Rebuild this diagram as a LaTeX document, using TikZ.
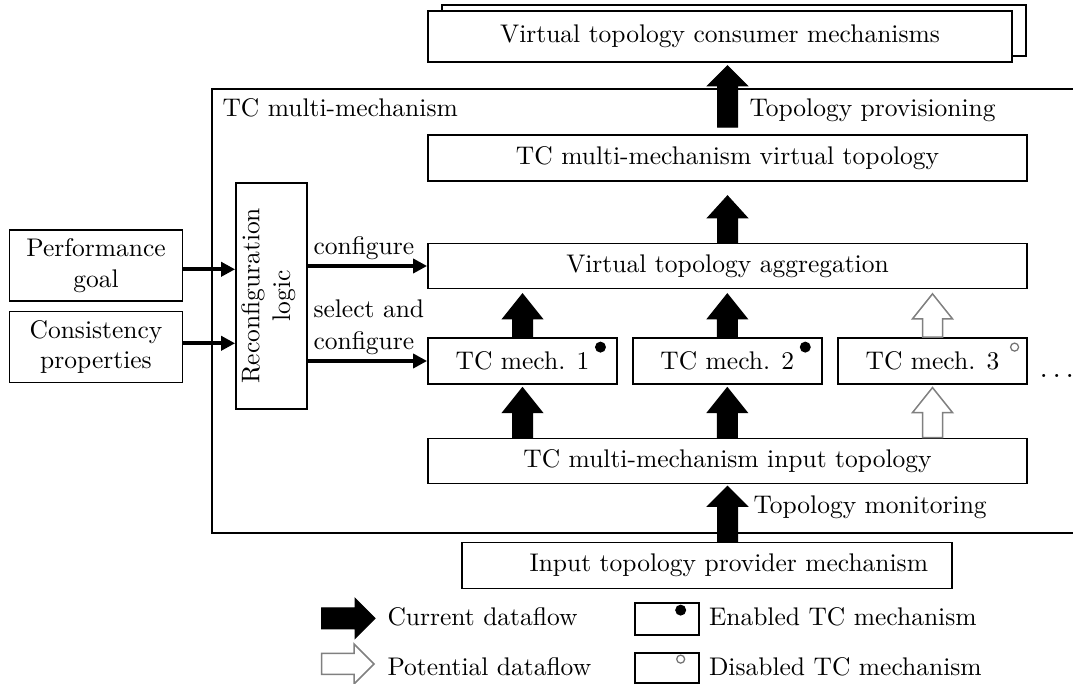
\documentclass[tikz,border=0pt]{standalone}
\usetikzlibrary{arrows.meta,calc}

% block arrow pointing up: style, base point, tip point, head length
\newcommand\flowup[4]{%
  \path[#1] let \p1=#2, \p2=#3 in
    (\x1-4pt,\y1) -- (\x1-4pt,\y2-#4) -- (\x1-8pt,\y2-#4) -- (\x1,\y2)
    -- (\x1+8pt,\y2-#4) -- (\x1+4pt,\y2-#4) -- (\x1+4pt,\y1) -- cycle;}
% block arrow pointing right: style, base point, tip point, head length
\newcommand\flowright[4]{%
  \path[#1] let \p1=#2, \p2=#3 in
    (\x1,\y1-4.2pt) -- (\x2-#4,\y1-4.2pt) -- (\x2-#4,\y1-8pt) -- (\x2,\y1)
    -- (\x2-#4,\y1+8pt) -- (\x2-#4,\y1+4.2pt) -- (\x1,\y1+4.2pt) -- cycle;}

\begin{document}
\begin{tikzpicture}[x=0.4pt,y=-0.4pt,
  font=\fontsize{10.2}{12.3}\selectfont,
  box/.style={draw,line width=0.7pt,fill=white,inner sep=0pt,align=center},
  sz/.style 2 args={minimum width=#1*0.4pt,minimum height=#2*0.4pt},
  frame/.style={line width=1.1pt},
  cur/.style={fill=black,draw=black,line width=0.4pt},
  pot/.style={fill=white,draw=black!50,line width=0.6pt},
  ctrl/.style={line width=1.6pt,-{Triangle[length=5.6pt,width=5.6pt]}},
  lbl/.style={inner sep=0pt,anchor=base west},
]
\useasboundingbox (0,0) rectangle (1073,684);

% consumers (stacked boxes)
\node[box,sz={584}{51}] (consB) at (734,30.5) {};
\node[box,sz={584}{51}] (cons) at (720,36.5) {Virtual topology consumer mechanisms};

% TC multi-mechanism frame (open towards the right border)
\coordinate (frTL) at (212,89);
\coordinate (frBL) at (212,533);
\draw[frame] (frTL -| 1073,0) -- (frTL) -- (frBL) -- (frBL -| 1073,0);
\node[lbl] (mmlabel) at (222,116.5) {TC multi-mechanism};
\node[lbl] (provlabel) at (749,116.5) {Topology provisioning};
\node[lbl] (monlabel) at (753,514) {Topology monitoring};

% inner boxes
\node[box,sz={599}{46}] (vt) at (727.5,158) {TC multi-mechanism virtual topology};
\node[box,sz={599}{45}] (agg) at (727.5,266) {Virtual topology aggregation};
\node[box,sz={189}{46}] (m1) at (522.5,361) {TC mech. 1};
\node[box,sz={189}{46}] (m2) at (727.3,361) {TC mech. 2};
\node[box,sz={189}{46}] (m3) at (932.5,361) {TC mech. 3};
\node[box,sz={599}{45}] (inp) at (727.5,461) {TC multi-mechanism input topology};
\node[lbl] (more) at (1038.8,378) {\fontsize{15}{15}\selectfont .\kern1.4pt.\kern1.4pt.};

% state markers
\fill ($(m1.north east)+(-17.4,10)$) circle (2.2pt);
\fill ($(m2.north east)+(-17.4,10)$) circle (2.2pt);
\draw[black!55,line width=0.5pt] ($(m3.north east)+(-13.3,10)$) circle (1.6pt);

% provider
\node[box,minimum height=18.4pt,text width=176.8pt,inner xsep=9.6pt,align=right]
  (prov) at (707,565.5) {Input topology provider mechanism};

% reconfiguration and its inputs
\node[box,sz={71}{226}] (rc) at (271.5,295.9) {};
\node[rotate=90,align=center,inner sep=0pt] (rctext) at ($(rc.center)+(-3,0)$) {Reconfiguration\\logic};
\node[box,sz={173}{71}] (perf) at (96,265.7) {Performance\\goal};
\node[box,sz={173}{71}] (consist) at (96,347) {Consistency\\properties};

\coordinate (pa) at ($(perf.east)+(0,3.6)$);
\coordinate (ca) at ($(consist.east)+(0,-3.7)$);
\draw[ctrl] (pa) -- (pa -| rc.west);
\draw[ctrl] (ca) -- (ca -| rc.west);
\draw[ctrl] (rc.east |- agg.west) -- (agg.west);
\draw[ctrl] (rc.east |- m1.west) -- (m1.west);
\node[lbl] (lcfg) at (313,255) {configure};
\node[lbl] (lsel) at (313,318) {select and};
\node[lbl] (lsel2) at (313,350) {configure};

% dataflow arrows
\coordinate (a0b) at ($(vt.north)+(0,-7)$);
\coordinate (a0t) at ($(cons.south -| vt.north)+(0,3)$);
\flowup{cur}{(a0b)}{(a0t)}{8pt}
\coordinate (a1t) at ($(vt.south)+(0,14)$);
\flowup{cur}{(agg.north)}{(a1t)}{8.8pt}

\coordinate (u1) at ($(m1.north |- agg.south)+(0,4.5)$);
\coordinate (u2) at ($(m2.north |- agg.south)+(0,4.5)$);
\coordinate (u3) at ($(m3.north |- agg.south)+(0,4.5)$);
\flowup{cur}{(m1.north)}{(u1)}{10pt}
\flowup{cur}{(m2.north)}{(u2)}{10pt}
\flowup{pot}{(m3.north)}{(u3)}{10pt}

\coordinate (d1) at ($(m1.south)+(0,2.7)$);
\coordinate (d2) at ($(m2.south)+(0,2.7)$);
\coordinate (d3) at ($(m3.south)+(0,2.7)$);
\flowup{cur}{(m1.south |- inp.north)}{(d1)}{10pt}
\flowup{cur}{(m2.south |- inp.north)}{(d2)}{10pt}
\flowup{pot}{(m3.south |- inp.north)}{(d3)}{10pt}

\coordinate (pb) at (inp.south |- prov.north);
\coordinate (pt) at ($(inp.south)+(0,2)$);
\flowup{cur}{(pb)}{(pt)}{8pt}

% legend
\coordinate (lgA1) at (321.7,618.3);
\coordinate (lgA2) at (375,618.3);
\coordinate (lgB1) at (321.7,664);
\coordinate (lgB2) at (374,664);
\flowright{cur}{(lgA1)}{(lgA2)}{8pt}
\flowright{pot}{(lgB1)}{(lgB2)}{8pt}
\node[lbl] (lgAt) at (387,626) {Current dataflow};
\node[lbl] (lgBt) at (387,676) {Potential dataflow};

\node[box,sz={64}{32}] (lgC) at (666.8,619) {};
\node[box,sz={64}{30}] (lgD) at (666.8,668) {};
\fill ($(lgC.north east)+(-19,8)$) circle (2.2pt);
\draw[black!55,line width=0.5pt] ($(lgD.north east)+(-19,7)$) circle (1.6pt);
\node[lbl] (lgCt) at (708.5,626) {Enabled TC mechanism};
\node[lbl] (lgDt) at (708.5,676) {Disabled TC mechanism};
\end{tikzpicture}
\end{document}
